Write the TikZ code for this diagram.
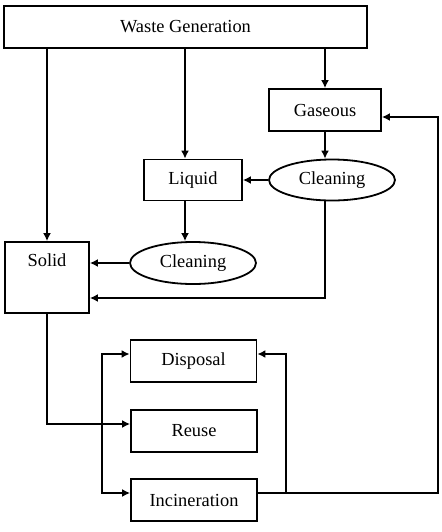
\documentclass[tikz,border=0pt]{standalone}
\usepackage{fontspec}
\setmainfont{Liberation Serif}
\usetikzlibrary{arrows.meta,shapes.geometric}

\begin{document}
\begin{tikzpicture}[
  x=0.5pt, y=-0.5pt,
  font=\fontsize{9.2}{11}\selectfont,
  arr/.style={-{Latex[length=4pt,width=4pt]}, line width=0.95pt},
  wbox/.style={rectangle, draw, line width=0.9pt, inner sep=0pt,
               minimum width=63pt, minimum height=21pt},
  cleanbox/.style={ellipse, draw, line width=0.9pt, inner sep=0pt,
                   minimum width=63pt, minimum height=20.5pt},
]
\useasboundingbox[fill=white] (0,0) rectangle (442,532);

%% ===== Waste streams =====
\node[wbox, minimum width=181.5pt] (wg) at (185.5,27) {Waste Generation};
\node[wbox, minimum width=56pt] (gas) at (325,110) {Gaseous};
\node[cleanbox] (cl1) at (332,180) {Cleaning};
\node[wbox, minimum width=49pt, minimum height=20.5pt] (liq) at (193,180) {Liquid};
\node[cleanbox, minimum height=21pt] (cl2) at (193,263) {Cleaning};
\node[wbox, minimum width=42pt, minimum height=35.5pt] (solid) at (47,277.5) {};
\node (solidtxt) at ([yshift=-9.5pt]solid.north) {Solid};

%% ===== Treatment =====
\node[wbox] (disp) at (193.5,361) {Disposal};
\node[wbox] (reuse) at (194,431) {Reuse};
\node[wbox] (inc) at (194,500) {Incineration};

\coordinate (liqin) at ([xshift=-4pt]liq.north);
\coordinate (liqout) at ([xshift=-4pt]liq.south);
\coordinate (solidin) at ([yshift=-10.25pt]solid.east);
\coordinate (reusein) at ([yshift=3.5pt]reuse.west);
\coordinate (br) at ([xshift=-14pt]reusein);
\coordinate (incout) at ([yshift=3.5pt]inc.east);
\coordinate (ret) at ([xshift=90pt]incout);

\draw[arr] (wg.south -| solid) -- (solid.north);
\draw[arr] (liqin |- wg.south) -- (liqin);
\draw[arr] (wg.south -| gas) -- (gas.north);
\draw[arr] (gas.south) -- (gas.south |- cl1.north);
\draw[arr] (cl1.west) -- (liq.east);
\draw[arr] (liqout) -- (liqout |- cl2.north);
\draw[arr] (cl2.west) -- (cl2.west -| solid.east);
\draw[arr] (gas.south |- cl1.south) |- (solidin);

\draw[arr] (solid.south) |- (reusein);
\draw[arr] (br) |- ([yshift=3.5pt]disp.west);
\draw[arr] (br) |- ([yshift=3.5pt]inc.west);
\draw[arr] (incout) -- (ret) |- ([yshift=-3.5pt]gas.east);
\draw[arr] ([xshift=14pt]incout) |- ([yshift=3.5pt]disp.east);

\end{tikzpicture}
\end{document}
